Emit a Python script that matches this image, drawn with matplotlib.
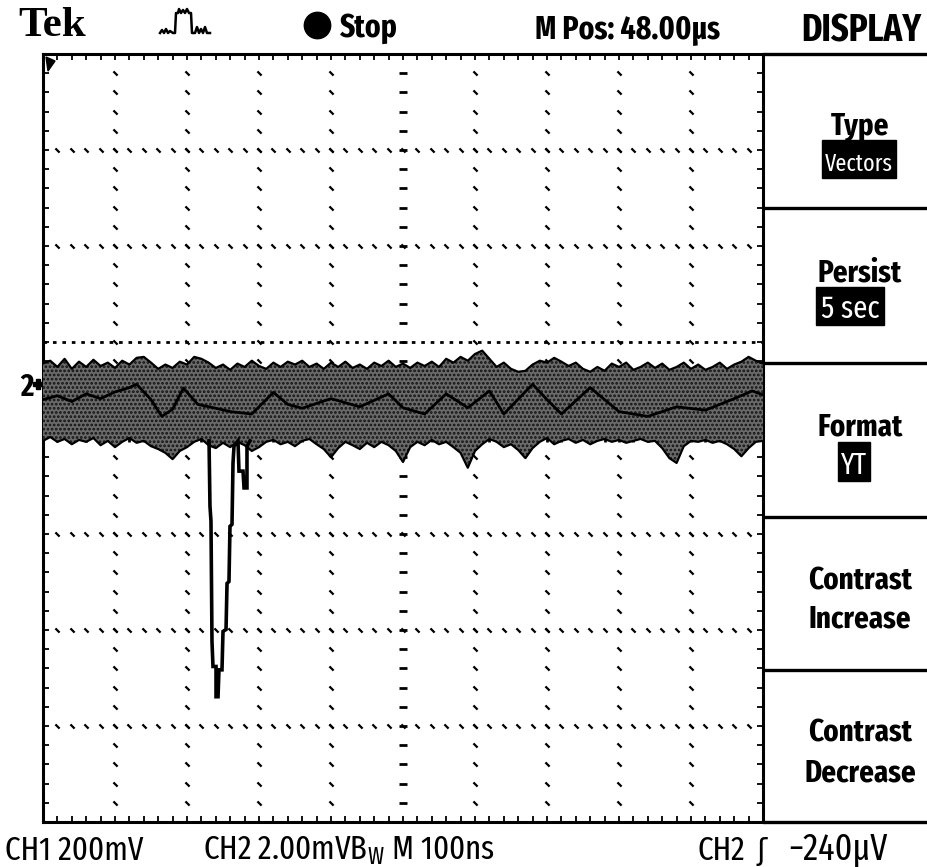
import numpy as np
import matplotlib
matplotlib.use("Agg")
import matplotlib.pyplot as plt
from matplotlib import font_manager
from matplotlib.font_manager import FontProperties
from matplotlib.path import Path
from matplotlib.patches import Rectangle

# ---------------- data (time in ns, CH2 amplitude in mV, screen centre = 0) ----------------
band_time_ns = np.arange(0, 1001, 10)
band_upper_mv = [1.55, 1.61, 1.48, 1.65, 1.44, 1.59, 1.48, 1.63, 1.50, 1.57,
                 1.46, 1.61, 1.53, 1.67, 1.69, 1.57, 1.44, 1.53, 1.46, 1.59,
                 1.53, 1.69, 1.65, 1.57, 1.46, 1.53, 1.42, 1.55, 1.48, 1.61,
                 1.50, 1.44, 1.57, 1.48, 1.59, 1.53, 1.61, 1.48, 1.55, 1.44,
                 1.57, 1.48, 1.59, 1.46, 1.53, 1.44, 1.57, 1.50, 1.61, 1.48,
                 1.55, 1.46, 1.57, 1.50, 1.59, 1.48, 1.65, 1.57, 1.69, 1.61,
                 1.75, 1.82, 1.65, 1.48, 1.57, 1.44, 1.38, 1.40, 1.53, 1.61,
                 1.57, 1.67, 1.59, 1.50, 1.57, 1.44, 1.38, 1.48, 1.40, 1.55,
                 1.48, 1.57, 1.42, 1.48, 1.57, 1.46, 1.55, 1.42, 1.48, 1.57,
                 1.44, 1.53, 1.42, 1.48, 1.57, 1.44, 1.53, 1.59, 1.69, 1.61,
                 1.55]
band_lower_mv = [-0.06, 0.02, -0.08, -0.02, -0.13, -0.04, -0.08, 0.00, -0.15, -0.06,
                 -0.19, -0.08, 0.00, -0.10, -0.06, -0.17, -0.23, -0.31, -0.44, -0.27,
                 -0.19, -0.08, -0.02, -0.15, -0.21, -0.10, -0.19, -0.08, -0.15, -0.27,
                 -0.19, -0.08, -0.04, -0.13, -0.08, -0.17, -0.06, -0.02, -0.13, -0.23,
                 -0.40, -0.21, -0.08, -0.15, -0.23, -0.10, -0.19, -0.08, -0.15, -0.27,
                 -0.50, -0.19, -0.08, -0.15, -0.04, -0.13, -0.08, -0.19, -0.31, -0.62,
                 -0.27, -0.13, -0.02, -0.08, -0.19, -0.13, -0.25, -0.42, -0.21, -0.08,
                 0.00, -0.13, -0.06, -0.02, -0.10, -0.04, -0.13, -0.06, -0.02, -0.08,
                 -0.04, -0.10, -0.06, -0.02, -0.08, -0.06, -0.21, -0.42, -0.52, -0.17,
                 -0.06, -0.08, -0.04, -0.10, -0.06, -0.13, -0.23, -0.38, -0.21, -0.08,
                 -0.06]

trace_time_ns = [0, 20, 40, 60, 80, 100, 120, 130, 150, 165, 180, 195, 215, 240, 260,
                 290, 320, 340, 360, 400, 440, 480, 500, 530, 560, 590, 620, 640, 680,
                 700, 720, 760, 800, 840, 880, 920, 960, 985, 1000]
trace_mv = [0.80, 0.88, 0.76, 0.92, 0.82, 0.96, 1.05, 1.12, 0.80, 0.45, 0.60, 1.04, 0.70,
            0.62, 0.55, 0.50, 0.95, 0.70, 0.62, 0.82, 0.65, 0.92, 0.63, 0.50, 0.92, 0.63,
            0.98, 0.50, 1.12, 0.80, 0.50, 1.05, 0.55, 0.45, 0.65, 0.58, 0.82, 0.98, 0.90]

pulse_time_ns = [230.6, 231.9, 233.3, 234.7, 236.1, 240.3, 240.3, 243.1, 244.4, 248.6,
                 250.0, 254.2, 255.6, 258.3, 259.7, 262.5, 263.9, 265.3, 270.8, 272.2,
                 277.8, 279.2, 283.3, 283.3, 287.5]
pulse_mv = [-0.06, -1.42, -1.73, -4.24, -4.76, -4.76, -5.39, -5.39, -4.83, -4.83,
            -4.03, -3.99, -3.03, -2.99, -1.84, -1.80, -0.52, -0.17, -0.06, -0.69,
            -0.69, -1.04, -1.04, -0.17, -0.06]

ch2_ground_mv = 1.13
menu_titles = ["Type", "Persist", "Format"]
menu_values = ["Vectors", "5 sec", "YT"]

# ---------------- fonts: prefer the narrowest sans face available ----------------
def find_narrow(bold):
    best, best_score = None, -1
    for f in font_manager.fontManager.ttflist:
        st = str(f.stretch).lower()
        nm = f.name
        if f.style != "normal" or "CJK" in nm or "Mono" in nm:
            continue
        if "extra-condensed" in st or "ExtraCondensed" in nm or "Extra Condensed" in nm:
            base = 6
        elif "Narrow" in nm:
            base = 5
        elif ("condensed" in st and "semi" not in st) or ("Condensed" in nm and "Semi" not in nm):
            base = 4
        else:
            continue
        if "ultra" in st or "UltraCondensed" in nm:
            continue
        try:
            w = int(f.weight)
        except (TypeError, ValueError):
            w = 700 if "bold" in str(f.weight) else 400
        target = 700 if bold else 400
        if abs(w - target) > 100:
            continue
        score = base * 10 - abs(w - target) / 50.0
        if score > best_score:
            best, best_score = f, score
    return best

nb = find_narrow(True)
nr = find_narrow(False)

def fp(bold=True):
    f = nb if bold else nr
    if f is None:
        f = nr if bold else nb
    if f is None:
        return FontProperties(family="DejaVu Sans", weight="bold" if bold else "normal")
    return FontProperties(fname=f.fname)

W, H = 928, 867
fig = plt.figure(figsize=(W / 100, H / 100), dpi=100)
fig.patch.set_facecolor("white")

bg = fig.add_axes([0, 0, 1, 1])
bg.set_xlim(0, W)
bg.set_ylim(H, 0)
bg.axis("off")

L, T, R, B = 43, 54, 763, 822
ax = fig.add_axes([L / W, 1 - B / H, (R - L) / W, (B - T) / H])
ax.set_xlim(0, 1000)
ax.set_ylim(-8, 8)
ax.patch.set_alpha(0)
for s in ax.spines.values():
    s.set_linewidth(2.2)
    s.set_color("black")
ax.set_xticks(np.arange(0, 1001, 20))
ax.set_yticks(np.arange(-8, 8.01, 0.4))
ax.tick_params(direction="in", length=4, width=1.3, top=True, right=True,
               labelbottom=False, labelleft=False, color="black")

dot = Path([(-1, 1), (1, -1)], [Path.MOVETO, Path.LINETO])
ys = np.arange(-7.6, 7.61, 0.4)
xs = np.arange(20, 981, 20)
for gx in range(100, 1000, 100):
    if gx == 500:
        ax.plot(np.full_like(ys, gx), ys, ls="none", marker="_", ms=6, mew=2.0, color="black", zorder=1)
    else:
        ax.plot(np.full_like(ys, gx), ys, ls="none", marker=dot, ms=3.0, mew=1.6, color="black", zorder=1)
for gy in [-6, -4, -2, 4, 6]:
    ax.plot(xs, np.full_like(xs, gy, dtype=float), ls="none", marker=dot, ms=3.0, mew=1.6, color="black", zorder=1)
ax.plot(xs, np.zeros_like(xs, dtype=float), ls="none", marker="|", ms=6, mew=2.0, color="black", zorder=1)
ax.plot([0, 1000], [2, 2], color="black", lw=2.0, ls=(0, (1.3, 2.1)), zorder=1)

# waveform (persisted noise band + latest trace + pulse)
plt.rcParams["hatch.linewidth"] = 1.3
ax.fill_between(band_time_ns, band_lower_mv, band_upper_mv, facecolor="#6a6a6a",
                edgecolor="#111111", hatch="....", lw=0, zorder=3)
ax.plot(band_time_ns, band_upper_mv, color="black", lw=1.6, zorder=4)
ax.plot(band_time_ns, band_lower_mv, color="black", lw=1.6, zorder=4)
ax.plot(trace_time_ns, trace_mv, color="black", lw=2.0, zorder=4)
ax.plot(pulse_time_ns, pulse_mv, color="black", lw=2.6, zorder=5, solid_joinstyle="miter")

# ---------------- chrome ----------------
for y in [54, 208, 363, 517, 670, 822]:
    bg.plot([R, W], [y, y], color="black", lw=2.4, solid_capstyle="butt")

bg.fill([46, 55, 48], [57, 61, 71], color="black")

icon_x = [160, 162, 164, 166, 168, 170, 173, 175, 176, 178, 179, 181, 183, 185, 187, 189, 191,
          192, 195, 197, 199, 201, 203, 205, 207, 210]
icon_y = [33, 30, 33, 29, 33, 31, 33, 33, 13, 13, 9, 13, 10, 13, 9, 13, 13,
          33, 33, 27, 33, 29, 33, 27, 33, 33]
bg.plot(icon_x, icon_y, color="black", lw=1.8)
bg.plot([317], [25], marker="o", ms=19, color="black")

renderer = fig.canvas.get_renderer()

def fit_size(s, width, bold=True, max_fs=30):
    t = bg.text(0, 0, s, fontproperties=fp(bold), fontsize=20)
    fs = 20.0
    for _ in range(3):
        w = t.get_window_extent(renderer).width
        fs = min(max_fs, fs * width / max(w, 1))
        t.set_fontsize(fs)
    t.remove()
    return fs

def put(x, y, s, fs, ha="left", bold=True, color="black"):
    return bg.text(x, y, s, fontproperties=fp(bold), fontsize=fs, va="baseline", ha=ha, color=color)

head_fs = fit_size("M Pos: 48.00µs", 185)
menu_fs = fit_size("Contrast", 104)
foot_fs = fit_size("CH2 2.00mVBW M 100ns", 297, bold=False)

bg.text(18, 36, "Tek", family="Liberation Serif", weight="bold", fontsize=31, va="baseline", ha="left")
put(340, 37, "Stop", head_fs)
put(535, 38, "M Pos: 48.00µs", head_fs)
put(861, 42, "DISPLAY", fit_size("DISPLAY", 120), ha="center")

title_base = [134, 281, 436]
value_base = [171, 318, 474]
value_w = [68, 60, 26]
boxes = [(822, 140, 896, 178), (816, 287, 884, 325), (838, 442, 870, 481)]
for t, v, tb, vb, vw, bx in zip(menu_titles, menu_values, title_base, value_base, value_w, boxes):
    put(860, tb, t, menu_fs, ha="center")
    x0, y0, x1, y1 = bx
    bg.add_patch(Rectangle((x0, y0), x1 - x0, y1 - y0, color="black"))
    put((x0 + x1) / 2, vb, v, fit_size(v, vw, bold=False, max_fs=menu_fs), ha="center",
        bold=False, color="white")

put(860, 589, "Contrast", menu_fs, ha="center")
put(860, 627, "Increase", menu_fs, ha="center")
put(860, 742, "Contrast", menu_fs, ha="center")
put(860, 781, "Decrease", menu_fs, ha="center")

put(5, 860, "CH1 200mV", foot_fs, bold=False)
put(203, 860, "CH2 2.00mV$\\mathregular{B_W}$ M 100ns", foot_fs, bold=False)
put(698, 860, "CH2", foot_fs, bold=False)
bg.text(757, 860, "ʃ", family=["DejaVu Sans"], fontsize=foot_fs * 0.9, va="baseline", ha="left")
put(788, 860, "−240µV", fit_size("−240µV", 108, bold=False, max_fs=foot_fs * 1.1), bold=False)

gy_px = T + (8 - ch2_ground_mv) / 16 * (B - T)
put(20, gy_px + 12, "2", menu_fs)
bg.plot([38], [gy_px], marker="P", ms=7, color="black")

fig.savefig("out.png", dpi=100)
